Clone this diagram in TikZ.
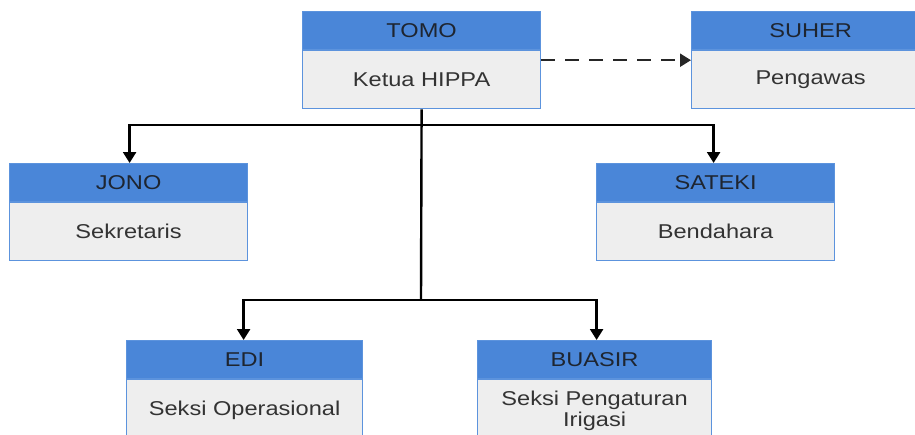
\documentclass[tikz,border=0pt]{standalone}
\usepackage{fontspec}
\setmainfont{Liberation Sans}[FakeStretch=1.18]
\usetikzlibrary{arrows.meta,positioning}
\definecolor{hdr}{HTML}{4A86D8}
\definecolor{bdy}{HTML}{EEEEEE}
\definecolor{edge}{HTML}{5C93DD}
\definecolor{txt}{HTML}{333333}
\definecolor{htxt}{HTML}{1E2530}
\tikzset{
  head/.style={rectangle, draw=edge, line width=1.2pt, fill=hdr, minimum width=238pt, minimum height=38pt, anchor=north west, inner sep=0pt, text=htxt, font=\fontsize{20}{22}\selectfont},
  bodybox/.style={rectangle, draw=edge, line width=1.2pt, fill=bdy, minimum width=238pt, minimum height=58pt, anchor=north, inner sep=0pt, text=txt, align=center, font=\fontsize{20}{21}\selectfont},
  conn/.style={line width=2.4pt, draw=black},
  arr/.style={conn, -{Triangle[length=11pt,width=13pt]}},
  dasharr/.style={line width=2.2pt, draw=black!85, dash pattern=on 14pt off 10pt, -{Triangle[length=11pt,width=13pt]}}
}
\begin{document}
\begin{tikzpicture}[x=1pt,y=-1pt]
\clip (0,0) rectangle (915,434);
\fill[white] (0,0) rectangle (915,434);
% boxes
\node[head] (tomoH) at (302,11) {TOMO};
\node[bodybox] (tomoB) at (tomoH.south) {Ketua HIPPA};
\node[head] (suherH) at (691,11) {SUHER};
\node[bodybox] (suherB) at (suherH.south) {Pengawas};
\node[head] (jonoH) at (9,163) {JONO};
\node[bodybox] (jonoB) at (jonoH.south) {Sekretaris};
\node[head] (satekiH) at (596,163) {SATEKI};
\node[bodybox] (satekiB) at (satekiH.south) {Bendahara};
\node[head, minimum width=236pt] (ediH) at (126,340) {EDI};
\node[bodybox, minimum width=236pt, minimum height=62pt] (ediB) at (ediH.south) {Seksi Operasional};
\node[head, minimum width=234pt] (buasirH) at (477,340) {BUASIR};
\node[bodybox, minimum width=234pt, minimum height=62pt] (buasirB) at (buasirH.south) {Seksi Pengaturan\\Irigasi};
% junctions
\coordinate (j1) at (421,125);
\coordinate (j2) at (421,300);
\draw[conn] (tomoB.south) -- (j2);
\draw[arr] (j1) -| ([xshift=1pt]jonoH.north);
\draw[arr] (j1) -| ([xshift=-2pt]satekiH.north);
\draw[arr] (j2) -| ([xshift=-1pt]ediH.north);
\draw[arr] (j2) -| ([xshift=2pt]buasirH.north);
\draw[dasharr] ([yshift=-10pt]tomoB.north east) -- ([yshift=-10pt]suherB.north west);
\end{tikzpicture}
\end{document}
